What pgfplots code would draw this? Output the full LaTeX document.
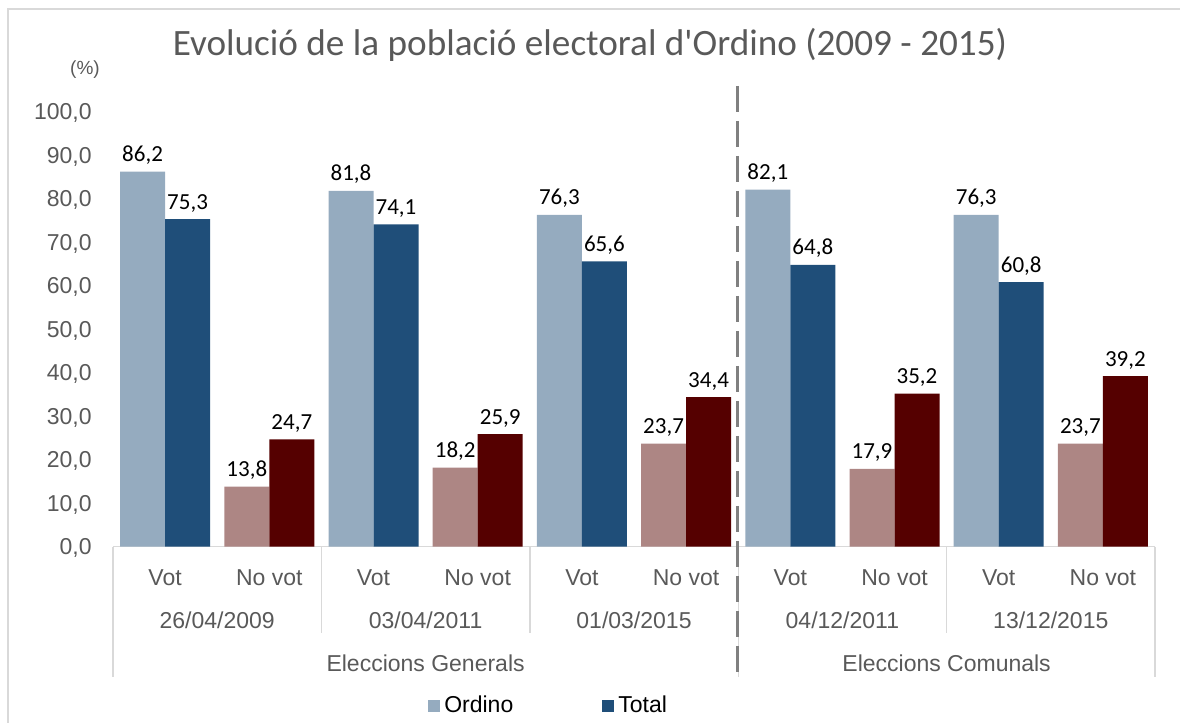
\documentclass[border=0pt]{standalone}
\usepackage{fontspec}
\setmainfont{Liberation Sans}
\newfontfamily\calibri{Carlito}
\usepackage{pgfplots}
\pgfplotsset{compat=1.18}

\definecolor{ordvot}{HTML}{95ABBF}
\definecolor{totvot}{HTML}{1F4E79}
\definecolor{ordno}{HTML}{AD8684}
\definecolor{totno}{HTML}{550000}
\definecolor{txtgray}{HTML}{595959}
\definecolor{linegray}{HTML}{D9D9D9}

\pgfplotsset{
  leftbar/.style={ybar, bar width=22.5pt, bar shift=-11.25pt, draw=none,
    every node near coord/.append style={xshift=-11.25pt}},
  rightbar/.style={ybar, bar width=22.5pt, bar shift=11.25pt, draw=none,
    every node near coord/.append style={xshift=11.25pt}},
}

\begin{document}
\begin{tikzpicture}[x=1pt,y=1pt]
\useasboundingbox (0,0) rectangle (590,361.5);
\draw[linegray, line width=0.7pt] (4,0) -- (4,357) -- (590,357);

\node[text=txtgray, font=\calibri\fontsize{18.6}{22}\selectfont] at (295,339)
  {Evolució de la població electoral d'Ordino (2009 - 2015)};
\node[text=txtgray, font=\fontsize{9.5}{11}\selectfont] at (42.5,326.5) {(\%)};

\begin{axis}[
    at={(56.5pt,88.15pt)}, anchor=south west,
    scale only axis,
    width=521pt, height=217.5pt,
    xmin=0, xmax=10,
    ymin=0, ymax=100,
    ytick={0,10,...,100},
    xtick={0.5,1.5,...,9.5},
    xticklabels={Vot,No vot,Vot,No vot,Vot,No vot,Vot,No vot,Vot,No vot},
    axis x line*=bottom,
    axis y line*=left,
    x axis line style={draw=linegray, line width=0.7pt},
    y axis line style={draw=none},
    tick style={draw=none},
    /pgf/number format/.cd, use comma, fixed, fixed zerofill, precision=1,
    assume math mode=true, /pgfplots/.cd,
    ticklabel style={font=\fontsize{11.5}{13}\selectfont, text=txtgray},
    yticklabel style={anchor=east, inner sep=0pt, xshift=-10.5pt, yshift=-0.7pt},
    xticklabel style={anchor=center, yshift=-15.5pt},
    nodes near coords,
    nodes near coords style={font=\calibri\fontsize{11.5}{13}\selectfont, text=black},
    legend columns=2,
    legend style={at={(0.419,-0.366)}, anchor=center, draw=none, fill=none,
        font=\fontsize{11.5}{13}\selectfont,
        /tikz/every even column/.append style={column sep=42.5pt}},
    legend image code/.code={\fill[#1] (0pt,-3pt) rectangle (6pt,3pt);},
]
% Vot
\addplot[leftbar, fill=ordvot]
  coordinates {(0.5,86.2) (2.5,81.8) (4.5,76.3) (6.5,82.1) (8.5,76.3)};
\addlegendentry{Ordino}
\addplot[rightbar, fill=totvot]
  coordinates {(0.5,75.3) (2.5,74.1) (4.5,65.6) (6.5,64.8) (8.5,60.8)};
\addlegendentry{Total}
% No vot
\addplot[leftbar, fill=ordno, forget plot]
  coordinates {(1.5,13.8) (3.5,18.2) (5.5,23.7) (7.5,17.9) (9.5,23.7)};
\addplot[rightbar, fill=totno, forget plot]
  coordinates {(1.5,24.7) (3.5,25.9) (5.5,34.4) (7.5,35.2) (9.5,39.2)};
\end{axis}

% multi-level category separators
\foreach \x in {160.7,264.9,473.3} \draw[linegray, line width=0.7pt] (\x,88.15) -- (\x,45);
\foreach \x in {56.5,369.1,577.5} \draw[linegray, line width=0.7pt] (\x,88.15) -- (\x,23);

\begin{scope}[font=\fontsize{11.5}{13}\selectfont, text=txtgray]
\node at (108.6,51.5) {26/04/2009};
\node at (212.8,51.5) {03/04/2011};
\node at (317.0,51.5) {01/03/2015};
\node at (421.2,51.5) {04/12/2011};
\node at (525.4,51.5) {13/12/2015};
\node at (212.8,30) {Eleccions Generals};
\node at (473.3,30) {Eleccions Comunals};
\end{scope}

\draw[color=gray, line width=1.5pt, dash pattern=on 13pt off 4.5pt] (368.5,318.5) -- (368.5,24.5);
\end{tikzpicture}
\end{document}
